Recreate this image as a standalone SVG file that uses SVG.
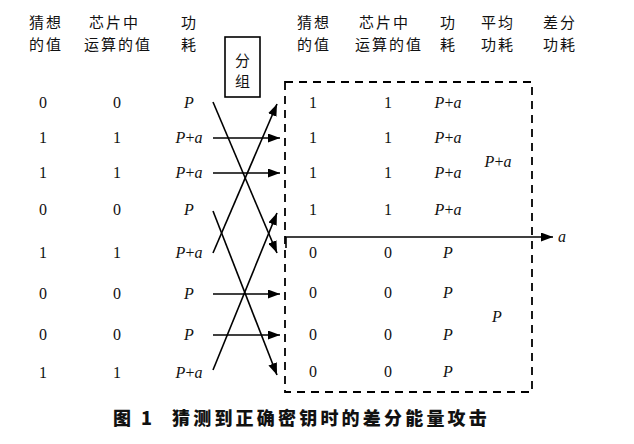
<svg xmlns="http://www.w3.org/2000/svg" width="634" height="444" viewBox="0 0 634 444">
<defs>
<marker id="ah" viewBox="0 0 12 9" refX="12" refY="4.5" markerWidth="12" markerHeight="9" markerUnits="userSpaceOnUse" orient="auto">
<path d="M0,0 L12,4.5 L0,9 Z" fill="#000"/>
</marker>
<style>
.h{font-family:"Noto Sans CJK SC","Noto Sans",sans-serif;font-size:15px;fill:#111}
.n{font-family:"Liberation Serif",serif;font-size:16px;fill:#111;text-anchor:middle}
.i{font-style:italic}
.c{font-family:"Noto Sans CJK SC",sans-serif;font-size:18px;font-weight:900;fill:#111}
.ln{stroke:#000;stroke-width:1.6;fill:none}
.ar{stroke:#000;stroke-width:1.6;fill:none;marker-end:url(#ah)}
.box{stroke:#000;stroke-width:1.8;fill:none;stroke-dasharray:8 6}
</style>
</defs>
<rect width="634" height="444" fill="#fff"/>
<g id="headers">
<text class="h" x="29" y="28" letter-spacing="2">猜想</text><text class="h" x="29" y="50" letter-spacing="2">的值</text>
<text class="h" x="89" y="28" letter-spacing="2">芯片中</text><text class="h" x="84" y="50" letter-spacing="2">运算的值</text>
<text class="h" x="181" y="28">功</text><text class="h" x="181" y="50">耗</text>
<text class="h" x="297" y="28" letter-spacing="2">猜想</text><text class="h" x="297" y="50" letter-spacing="2">的值</text>
<text class="h" x="359" y="28" letter-spacing="2">芯片中</text><text class="h" x="355" y="50" letter-spacing="2">运算的值</text>
<text class="h" x="440" y="28">功</text><text class="h" x="440" y="50">耗</text>
<text class="h" x="481" y="28" letter-spacing="2">平均</text><text class="h" x="481" y="50" letter-spacing="2">功耗</text>
<text class="h" x="543" y="28" letter-spacing="2">差分</text><text class="h" x="543" y="50" letter-spacing="2">功耗</text>
</g>
<g id="group-box">
<rect x="225" y="37" width="35" height="60" fill="none" stroke="#000" stroke-width="1.6"/>
<text class="h" x="242.5" y="66" text-anchor="middle" font-size="16">分</text>
<text class="h" x="242.5" y="87" text-anchor="middle" font-size="16">组</text>
</g>
<g id="left-table">
<text class="n" x="43" y="108">0</text><text class="n" x="117" y="108">0</text><text class="n i" x="189" y="108">P</text>
<text class="n" x="43" y="143">1</text><text class="n" x="117" y="143">1</text><text class="n" x="189" y="143"><tspan class="i">P</tspan>+<tspan class="i">a</tspan></text>
<text class="n" x="43" y="178">1</text><text class="n" x="117" y="178">1</text><text class="n" x="189" y="178"><tspan class="i">P</tspan>+<tspan class="i">a</tspan></text>
<text class="n" x="43" y="215">0</text><text class="n" x="117" y="215">0</text><text class="n i" x="189" y="215">P</text>
<text class="n" x="43" y="258">1</text><text class="n" x="117" y="258">1</text><text class="n" x="189" y="258"><tspan class="i">P</tspan>+<tspan class="i">a</tspan></text>
<text class="n" x="43" y="299">0</text><text class="n" x="117" y="299">0</text><text class="n i" x="189" y="299">P</text>
<text class="n" x="43" y="340">0</text><text class="n" x="117" y="340">0</text><text class="n i" x="189" y="340">P</text>
<text class="n" x="43" y="378">1</text><text class="n" x="117" y="378">1</text><text class="n" x="189" y="378"><tspan class="i">P</tspan>+<tspan class="i">a</tspan></text>
</g>
<g id="right-table">
<rect class="box" x="285" y="82" width="247" height="310"/>
<text class="n" x="313" y="108">1</text><text class="n" x="388" y="108">1</text><text class="n" x="448" y="108"><tspan class="i">P</tspan>+<tspan class="i">a</tspan></text>
<text class="n" x="313" y="143">1</text><text class="n" x="388" y="143">1</text><text class="n" x="448" y="143"><tspan class="i">P</tspan>+<tspan class="i">a</tspan></text>
<text class="n" x="313" y="178">1</text><text class="n" x="388" y="178">1</text><text class="n" x="448" y="178"><tspan class="i">P</tspan>+<tspan class="i">a</tspan></text>
<text class="n" x="313" y="215">1</text><text class="n" x="388" y="215">1</text><text class="n" x="448" y="215"><tspan class="i">P</tspan>+<tspan class="i">a</tspan></text>
<text class="n" x="313" y="258">0</text><text class="n" x="388" y="258">0</text><text class="n i" x="448" y="258">P</text>
<text class="n" x="313" y="298">0</text><text class="n" x="388" y="298">0</text><text class="n i" x="448" y="298">P</text>
<text class="n" x="313" y="340">0</text><text class="n" x="388" y="340">0</text><text class="n i" x="448" y="340">P</text>
<text class="n" x="313" y="377">0</text><text class="n" x="388" y="377">0</text><text class="n i" x="448" y="377">P</text>
<text class="n" x="498" y="167"><tspan class="i">P</tspan>+<tspan class="i">a</tspan></text>
<text class="n i" x="497" y="322">P</text>
<text class="n i" x="562" y="242">a</text>
</g>
<g id="connectors">
<line class="ar" x1="213" y1="138" x2="280" y2="138"/>
<line class="ar" x1="213" y1="173" x2="280" y2="173"/>
<line class="ar" x1="213" y1="294" x2="280" y2="294"/>
<line class="ar" x1="213" y1="335" x2="280" y2="335"/>
<line class="ar" x1="213" y1="102" x2="277" y2="253"/>
<line class="ar" x1="213" y1="253" x2="277" y2="104"/>
<line class="ar" x1="213" y1="211" x2="277" y2="375"/>
<line class="ar" x1="213" y1="370" x2="277" y2="213"/>
<line class="ar" x1="285" y1="237" x2="553" y2="237"/>
<line class="ln" x1="286" y1="237" x2="286" y2="248"/>
</g>
<g id="caption">
<text class="c" x="113" y="425" letter-spacing="3">图 1</text>
<text class="c" x="172" y="425" letter-spacing="3.2">猜测到正确密钥时的差分能量攻击</text>
</g>
</svg>
